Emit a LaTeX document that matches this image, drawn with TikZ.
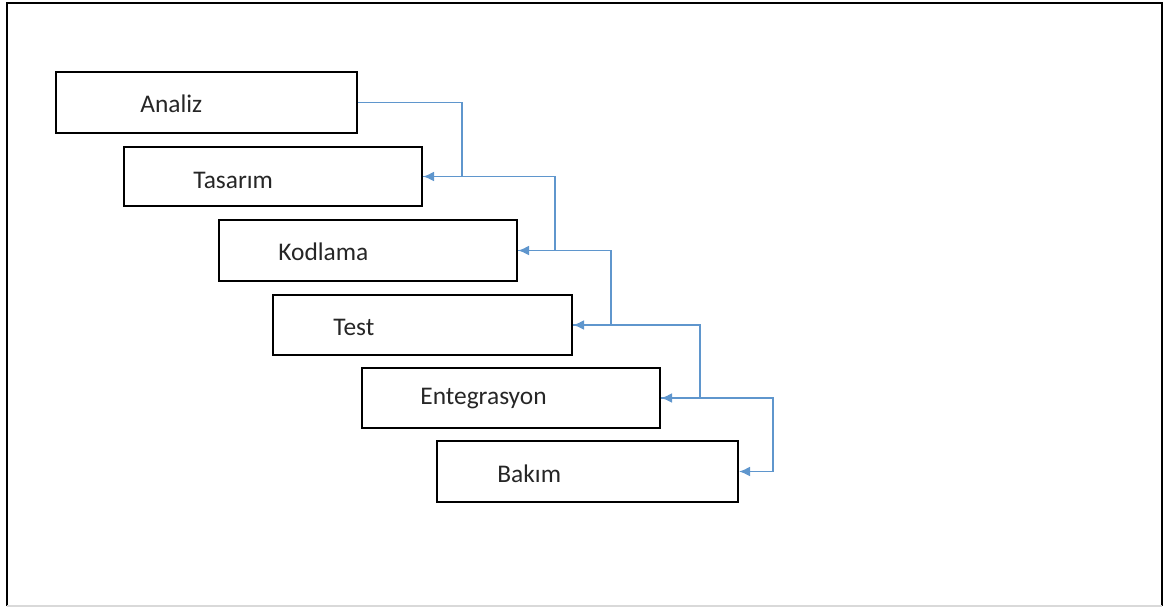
\documentclass[tikz,border=0pt]{standalone}
\usepackage{fontspec}
\setmainfont{Carlito}
\usetikzlibrary{arrows.meta}
\definecolor{connblue}{RGB}{95,150,205}
\begin{document}
\begin{tikzpicture}[x=0.5pt,y=-0.5pt,
  box/.style={draw=black,line width=1pt,minimum height=30pt,inner sep=0pt},
  lbl/.style={anchor=west,font=\fontsize{12.7pt}{15pt}\selectfont,text=black!85,inner sep=0pt},
  conn/.style={draw=connblue,line width=0.95pt,-{Latex[length=5.5pt,width=5pt]}}]
\useasboundingbox (0,0) rectangle (1164,607);
% frame
\draw[line width=1.3pt] (7,606) -- (7,3) -- (1162,3) -- (1162,606);
\draw[black!15,line width=0.8pt] (7,606) -- (1162,606);
% boxes
\node[box,minimum width=150.5pt,minimum height=30.5pt] (a) at (206.5,102.5) {};
\node[box,minimum width=149pt,minimum height=29.5pt] (b) at (273,176.5) {};
\node[box,minimum width=149pt,minimum height=30.5pt] (c) at (368,250.5) {};
\node[box,minimum width=149.5pt,minimum height=30pt] (d) at (422.5,325) {};
\node[box,minimum width=149pt,minimum height=30pt] (e) at (511,398) {};
\node[box,minimum width=150.5pt,minimum height=30.5pt] (f) at (587.5,471.5) {};
% labels
\node[lbl] (ta) at (140,104) {Analiz};
\node[lbl] (tb) at (193,180) {Tasarım};
\node[lbl] (tc) at (278,252) {Kodlama};
\node[lbl] (td) at (333,327) {Test};
\node[lbl] (te) at (420,399) {Entegrasyon};
\node[lbl] (tf) at (497,474) {Bakım};
% connector columns
\coordinate (k1) at (462,0);
\coordinate (k2) at (555,0);
\coordinate (k3) at (611,0);
\coordinate (k4) at (700,0);
\coordinate (k5) at (773,0);
\draw[conn] (a.east) -- (a.east -| k1) |- (b.east);
\draw[conn] (b.east) -- (b.east -| k2) |- (c.east);
\draw[conn] (c.east) -- (c.east -| k3) |- (d.east);
\draw[conn] (d.east) -- (d.east -| k4) |- (e.east);
\draw[conn] (e.east) -- (e.east -| k5) |- (f.east);
\end{tikzpicture}
\end{document}
